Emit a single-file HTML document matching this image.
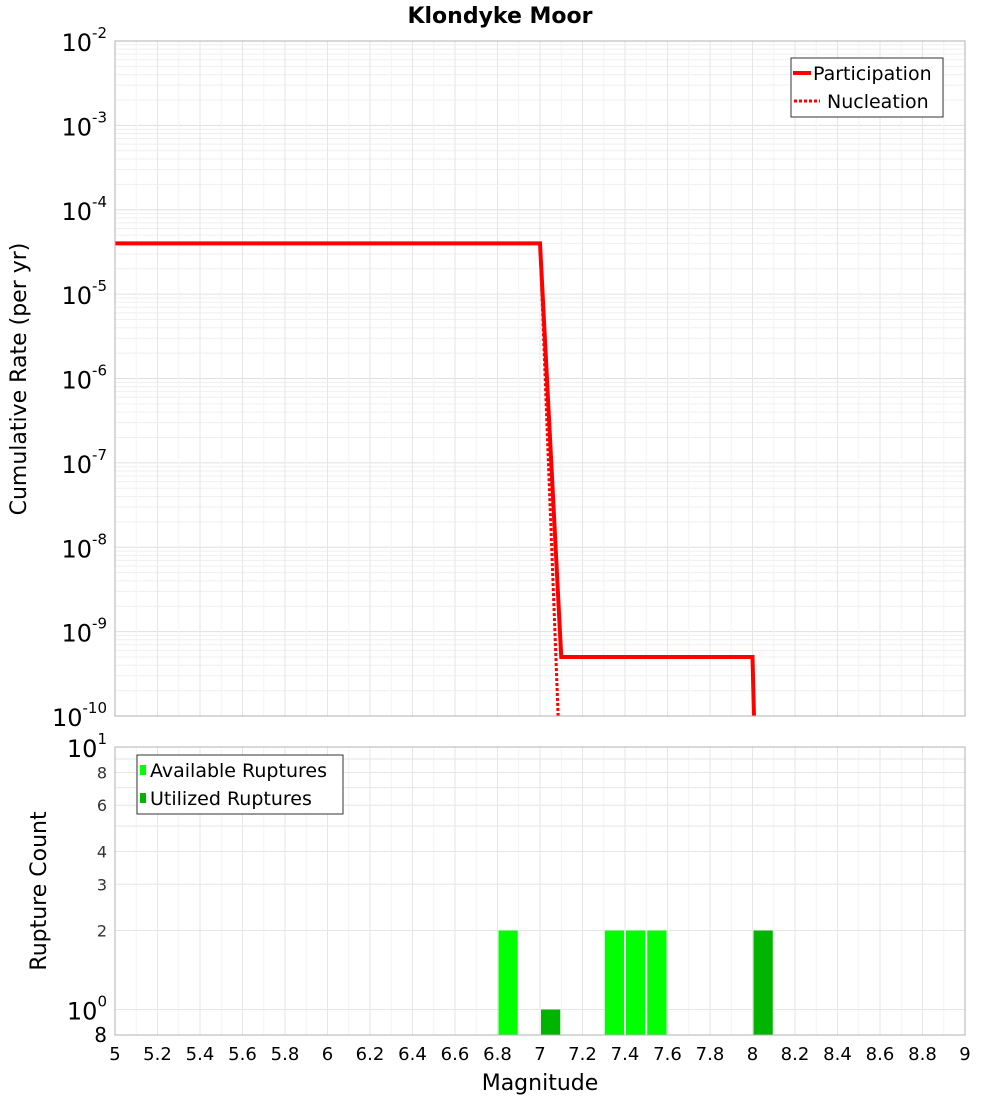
<!DOCTYPE html>
<html><head><meta charset="utf-8"><style>
body{margin:0;background:#fff;}
svg text{font-family:"DejaVu Sans","Liberation Sans",sans-serif;}
</style></head><body>
<svg id="c" width="1000" height="1100" xmlns="http://www.w3.org/2000/svg">
<text x="500" y="23" text-anchor="middle" font-size="22" font-weight="bold">Klondyke Moor</text>
<g id="topg"></g>
<g id="botg"></g>
<text transform="translate(26,379) rotate(-90)" text-anchor="middle" font-size="22">Cumulative Rate (per yr)</text>
<text transform="translate(46,891) rotate(-90)" text-anchor="middle" font-size="22">Rupture Count</text>
<text x="540" y="1090" text-anchor="middle" font-size="22">Magnitude</text>
</svg>
<script>
const partMag=[5,7.0,7.1,8.0,8.01];
const partRate=[4e-5,4e-5,5e-10,5e-10,5e-11];
const nuclMag=[5,7.0,7.09];
const nuclRate=[4e-5,4e-5,5e-11];
const availBins=[6.8,7.3,7.4,7.5];
const availCounts=[2,2,2,2];
const usedBins=[7.0,8.0];
const usedCounts=[1,2];
const xTicks=[5,5.2,5.4,5.6,5.8,6,6.2,6.4,6.6,6.8,7,7.2,7.4,7.6,7.8,8,8.2,8.4,8.6,8.8,9];
const topExps=[-2,-3,-4,-5,-6,-7,-8,-9,-10];
const botTicks=[8,6,4,3,2];

const NS="http://www.w3.org/2000/svg";
const X0=115,X1=965,T0=41,T1=716,B0=747,B1=1035;
const xs=m=>X0+(m-5)/4*(X1-X0);
const yt=v=>T0+(-2-Math.log10(v))/8*(T1-T0);
const LB=Math.log10(0.8);
const yb=v=>B0+(1-Math.log10(v))/(1-LB)*(B1-B0);
function mk(p,tag,a){const e=document.createElementNS(NS,tag);for(const k in a)e.setAttribute(k,a[k]);p.appendChild(e);return e;}
const topG=document.getElementById('topg'),botG=document.getElementById('botg');

for(let d=-10;d<-2;d++)for(let k=1;k<10;k++){const y=yt(k*Math.pow(10,d));
 const g=mk(topG,'line',{x1:X0,x2:X1,y1:y,y2:y,stroke:k==1?'#e0e0e0':'#efefef','stroke-width':1});
 
 }
for(let i=0;i<=40;i++){const x=xs(5+i*0.1);
 const g=mk(topG,'line',{x1:x,x2:x,y1:T0,y2:T1,stroke:i%2?'#f3f3f3':'#e6e6e6'});
 
 
 const g2=mk(botG,'line',{x1:x,x2:x,y1:B0,y2:B1,stroke:i%2?'#f3f3f3':'#e6e6e6'});
 
 }
for(const v of [1,2,3,4,5,6,7,8,9,10]){const y=yb(v);
 const g=mk(botG,'line',{x1:X0,x2:X1,y1:y,y2:y,stroke:'#e6e6e6'});
 
 }

const defsEl=mk(document.getElementById('c'),'defs',{});
const cp=mk(defsEl,'clipPath',{id:'ct'});mk(cp,'rect',{x:X0,y:T0,width:X1-X0,height:T1-T0});

const pts=(M,R)=>M.map((m,i)=>xs(m)+','+yt(R[i])).join(' ');
const nl=mk(topG,'polyline',{points:pts(nuclMag,nuclRate),fill:'none',stroke:'#ff0000','stroke-width':3,'stroke-dasharray':'3,2','clip-path':'url(#ct)'});


const pl=mk(topG,'polyline',{points:pts(partMag,partRate),fill:'none',stroke:'#ff0000','stroke-width':4,'clip-path':'url(#ct)'});



function bars(B,C,col,nm){B.forEach((b,i)=>{const x=xs(b)+1,w=xs(b+0.1)-xs(b)-2;const y=yb(C[i]);
 const r=mk(botG,'rect',{x:x,y:y,width:w,height:B1-y,fill:col});
 
 });}
bars(availBins,availCounts,'#00ff00','available-bar');
bars(usedBins,usedCounts,'#00b400','utilized-bar');

const f1=mk(topG,'rect',{x:X0,y:T0,width:X1-X0,height:T1-T0,fill:'none',stroke:'#b0b0b0'});


const f2=mk(botG,'rect',{x:X0,y:B0,width:X1-X0,height:B1-B0,fill:'none',stroke:'#b0b0b0'});



topExps.forEach(e=>{const y=yt(Math.pow(10,e));
 const t=mk(topG,'text',{x:107,y:y+10,'text-anchor':'end','font-size':24});
 
 
 t.textContent='10';
 const s=mk(t,'tspan',{dy:-13,'font-size':15});s.textContent=String(e);});
const t10=mk(botG,'text',{x:107,y:yb(10)+10,'text-anchor':'end','font-size':24});


t10.textContent='10';mk(t10,'tspan',{dy:-13,'font-size':15}).textContent='1';
const t1=mk(botG,'text',{x:107,y:yb(1)+10,'text-anchor':'end','font-size':24});


t1.textContent='10';mk(t1,'tspan',{dy:-13,'font-size':15}).textContent='0';
botTicks.forEach(v=>{const t=mk(botG,'text',{x:107,y:yb(v)+6,'text-anchor':'end','font-size':16,fill:'#333'});
 
 
 t.textContent=v;});
const t08=mk(botG,'text',{x:107,y:yb(0.8)+7,'text-anchor':'end','font-size':20});


t08.textContent='8';
xTicks.forEach(v=>{const t=mk(botG,'text',{x:xs(v),y:1060,'text-anchor':'middle','font-size':18});
 
 
 t.textContent=String(v);});

const lg=mk(topG,'g',{});


mk(lg,'rect',{x:791,y:58,width:152,height:59,fill:'#fff',stroke:'#333'});
mk(lg,'line',{x1:793,x2:811,y1:73,y2:73,stroke:'#f00','stroke-width':4});
mk(lg,'line',{x1:794,x2:820,y1:101,y2:101,stroke:'#f00','stroke-width':3,'stroke-dasharray':'3,2'});
const l1=mk(lg,'text',{x:813,y:80,'font-size':19});l1.textContent='Participation';


const l2=mk(lg,'text',{x:827,y:108,'font-size':19});l2.textContent='Nucleation';



const lb=mk(botG,'g',{});


mk(lb,'rect',{x:137,y:755,width:206,height:59,fill:'#fff',stroke:'#333'});
mk(lb,'rect',{x:140,y:765,width:6,height:10,fill:'#00ff00'});
mk(lb,'rect',{x:140,y:793,width:6,height:10,fill:'#00b400'});
const l3=mk(lb,'text',{x:150,y:777,'font-size':19});l3.textContent='Available Ruptures';


const l4=mk(lb,'text',{x:150,y:805,'font-size':19});l4.textContent='Utilized Ruptures';


</script>
</body></html>
